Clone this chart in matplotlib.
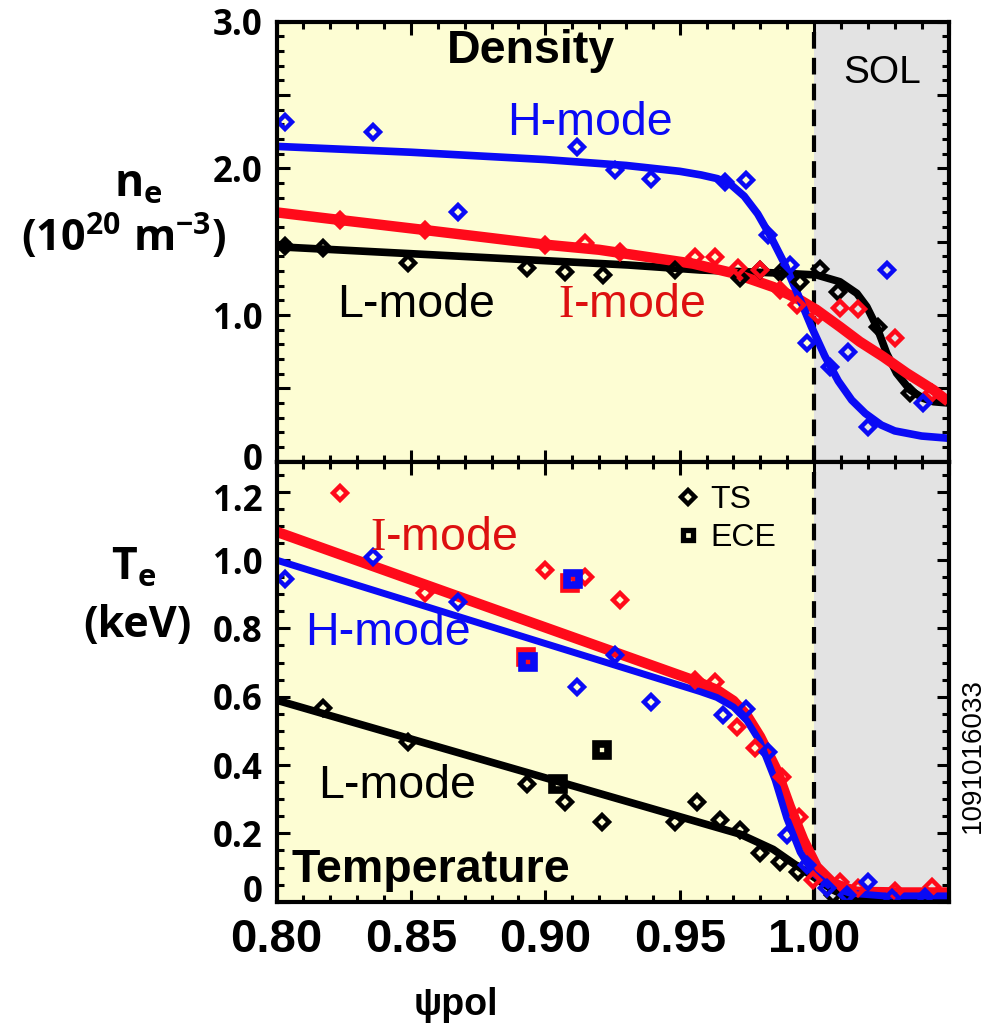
import matplotlib
matplotlib.use("Agg")
import matplotlib.pyplot as plt
from matplotlib.ticker import FixedLocator, MultipleLocator
from matplotlib.lines import Line2D
from matplotlib.transforms import ScaledTranslation

# ---------------- data ----------------
# Density (10^20 m^-3) - TS points
h_ne_x = [0.8032, 0.8360, 0.8674, 0.9117, 0.9259, 0.9392, 0.9669, 0.9746, 0.9830, 0.9910, 0.9972, 1.0059, 1.0127, 1.0202, 1.0270, 1.0406]
h_ne_y = [2.318, 2.250, 1.705, 2.148, 1.989, 1.927, 1.909, 1.921, 1.546, 1.341, 0.807, 0.648, 0.750, 0.239, 1.307, 0.398]
i_ne_x = [0.8237, 0.8552, 0.8999, 0.9148, 0.9278, 0.9557, 0.9631, 0.9718, 0.9799, 0.9873, 0.9935, 1.0016, 1.0096, 1.0164, 1.0300, 1.0437]
i_ne_y = [1.646, 1.580, 1.478, 1.490, 1.430, 1.398, 1.398, 1.319, 1.307, 1.171, 1.068, 1.000, 1.046, 1.039, 0.841, 0.470]
l_ne_x = [0.8030, 0.8174, 0.8490, 0.8931, 0.9073, 0.9216, 0.9482, 0.9724, 0.9800, 0.9873, 0.9948, 1.0022, 1.0090, 1.0239, 1.0357]
l_ne_y = [1.470, 1.455, 1.353, 1.318, 1.295, 1.273, 1.307, 1.250, 1.307, 1.285, 1.227, 1.312, 1.160, 0.920, 0.466]

# Density fits
h_ne_fx = [0.80, 0.85, 0.90, 0.93, 0.95, 0.958, 0.964, 0.969, 0.974, 0.979, 0.984, 0.989, 0.994, 0.999, 1.004, 1.009, 1.014, 1.019, 1.025, 1.030, 1.040, 1.050]
h_ne_fy = [2.15, 2.11, 2.06, 2.02, 1.98, 1.955, 1.93, 1.89, 1.81, 1.69, 1.53, 1.35, 1.14, 0.92, 0.72, 0.55, 0.42, 0.33, 0.25, 0.21, 0.175, 0.16]
i_ne_fx = [0.80, 0.825, 0.855, 0.90, 0.92, 0.9365, 0.955, 0.970, 0.985, 0.995, 1.001, 1.0096, 1.017, 1.0257, 1.0345, 1.0444, 1.05]
i_ne_fy = [1.70, 1.645, 1.58, 1.48, 1.445, 1.40, 1.35, 1.285, 1.19, 1.10, 1.034, 0.92, 0.818, 0.716, 0.603, 0.489, 0.409]
l_ne_fx = [0.80, 0.9309, 0.9576, 0.9885, 1.001, 1.0096, 1.0159, 1.0196, 1.0233, 1.027, 1.0307, 1.0357, 1.0406, 1.0444, 1.05]
l_ne_fy = [1.466, 1.341, 1.307, 1.285, 1.273, 1.227, 1.148, 1.057, 0.92, 0.739, 0.603, 0.489, 0.432, 0.409, 0.40]

# Temperature (keV) - TS points
h_te_x = [0.8032, 0.8360, 0.8674, 0.9117, 0.9259, 0.9392, 0.9662, 0.9746, 0.9830, 0.9898, 0.9973, 1.0047, 1.0121, 1.0202, 1.0289, 1.0413]
h_te_y = [0.946, 1.010, 0.878, 0.629, 0.722, 0.585, 0.546, 0.563, 0.439, 0.195, 0.107, 0.039, 0.020, 0.059, 0.010, 0.015]
i_te_x = [0.8237, 0.8552, 0.8999, 0.9148, 0.9278, 0.9557, 0.9631, 0.9712, 0.9780, 0.9880, 0.9945, 0.9997, 1.0096, 1.0164, 1.0300, 1.0437]
i_te_y = [1.195, 0.903, 0.971, 0.951, 0.883, 0.649, 0.644, 0.512, 0.449, 0.366, 0.249, 0.064, 0.059, 0.039, 0.030, 0.044]
l_te_x = [0.8174, 0.8490, 0.8931, 0.9073, 0.9210, 0.9483, 0.9563, 0.9650, 0.9724, 0.9799, 0.9873, 0.9941, 1.0071]
l_te_y = [0.566, 0.468, 0.346, 0.293, 0.234, 0.234, 0.293, 0.239, 0.210, 0.142, 0.117, 0.088, 0.020]

# Temperature - ECE points
h_ece_x = [0.8937, 0.9104]
h_ece_y = [0.702, 0.946]
i_ece_x = [0.8927, 0.9093]
i_ece_y = [0.716, 0.934]
l_ece_x = [0.9049, 0.9210]
l_ece_y = [0.346, 0.444]

# Temperature fits
h_te_fx = [0.80, 0.9576, 0.9638, 0.9700, 0.9750, 0.9799, 0.9855, 0.9898, 0.9948, 0.9997, 1.0059, 1.0133, 1.0257, 1.05]
h_te_fy = [1.00, 0.615, 0.598, 0.570, 0.530, 0.468, 0.356, 0.245, 0.145, 0.083, 0.044, 0.025, 0.017, 0.017]
i_te_fx = [0.80, 0.9563, 0.9638, 0.9700, 0.9750, 0.9799, 0.9861, 0.9910, 0.9960, 1.0010, 1.0071, 1.0158, 1.032, 1.05]
i_te_fy = [1.083, 0.645, 0.620, 0.588, 0.545, 0.483, 0.385, 0.278, 0.181, 0.102, 0.054, 0.029, 0.027, 0.027]
l_te_fx = [0.80, 0.9724, 0.9848, 0.9923, 0.9997, 1.0071, 1.0121, 1.02, 1.05]
l_te_fy = [0.59, 0.198, 0.153, 0.112, 0.073, 0.034, 0.015, 0.010, 0.010]

x_ticks = [0.80, 0.85, 0.90, 0.95, 1.00, 1.05]
x_ticklabels = ["0.80", "0.85", "0.90", "0.95", "1.00", ""]
ne_ticks = [0.0, 0.5, 1.0, 1.5, 2.0, 2.5, 3.0]
ne_ticklabels = ["0", "", "1.0", "", "2.0", "", "3.0"]
te_ticks = [0.0, 0.2, 0.4, 0.6, 0.8, 1.0, 1.2]
te_ticklabels = ["0", "0.2", "0.4", "0.6", "0.8", "1.0", "1.2"]

# ---------------- style ----------------
BLUE = "#0A0AF5"
RED = "#FF0A1A"
RED_TXT = "#DD1010"
BLACK = "#000000"
YELLOW = "#FDFDD3"
GRAY = "#E3E3E3"

plt.rcParams["mathtext.fontset"] = "custom"
plt.rcParams["mathtext.rm"] = "Liberation Serif"
plt.rcParams["mathtext.bf"] = "Open Sans:bold"
plt.rcParams["mathtext.it"] = "Open Sans:italic"
plt.rcParams["font.family"] = ["Liberation Sans", "DejaVu Sans"]

W, H = 984, 1026
fig = plt.figure(figsize=(W / 100, H / 100), dpi=100)

L, R = 276.5, 948.5
ax1 = fig.add_axes([L / W, 1 - 461.7 / H, (R - L) / W, 440 / H])
ax2 = fig.add_axes([L / W, 1 - 901.7 / H, (R - L) / W, 440 / H])

narrow = ["Liberation Sans Narrow", "Liberation Sans", "DejaVu Sans"]
humanist = ["Open Sans", "DejaVu Sans"]

for ax in (ax1, ax2):
    ax.set_facecolor(YELLOW)
    ax.set_xlim(0.80, 1.05)
    ax.axvspan(1.0, 1.05, color=GRAY, zorder=0, lw=0)
    ax.axvline(1.0, color=BLACK, lw=3, dashes=(4, 2.2), zorder=2)
    for s in ax.spines.values():
        s.set_linewidth(3)
        s.set_zorder(10)
    ax.xaxis.set_major_locator(FixedLocator(x_ticks))
    ax.xaxis.set_minor_locator(MultipleLocator(0.01))
    ax.tick_params(which="both", direction="in", top=True, right=True, width=2.2)
    ax.tick_params(which="major", length=9)
    ax.tick_params(which="minor", length=5)

# top panel
ax1.set_ylim(0, 3.0)
ax1.yaxis.set_major_locator(FixedLocator(ne_ticks))
ax1.set_yticklabels(ne_ticklabels)
ax1.yaxis.set_minor_locator(MultipleLocator(0.1))
ax1.tick_params(axis="x", labelbottom=False)

# bottom panel
ax2.set_ylim(0, 1.288)
ax2.yaxis.set_major_locator(FixedLocator(te_ticks))
ax2.set_yticklabels(te_ticklabels)
ax2.yaxis.set_minor_locator(MultipleLocator(0.05))
ax2.set_xticklabels(x_ticklabels)

for ax in (ax1, ax2):
    for lab in ax.get_yticklabels():
        lab.set_fontfamily(humanist)
        lab.set_fontweight("bold")
        lab.set_fontsize(25)
    ax.tick_params(axis="y", pad=10)
for lab in ax2.get_xticklabels():
    lab.set_fontfamily(narrow)
    lab.set_fontweight("bold")
    lab.set_fontsize(34)
ax2.tick_params(axis="x", pad=12)


def shift_label(lab, dy_px):
    lab.set_transform(lab.get_transform() + ScaledTranslation(0, dy_px / 100, fig.dpi_scale_trans))


# nudge the labels that sit at the panel joins, as in the original
shift_label(ax1.get_yticklabels()[0], 5)      # top "0"
shift_label(ax2.get_yticklabels()[-1], -6)    # bottom "1.2"
shift_label(ax2.get_yticklabels()[0], 13)     # bottom "0"

dmk = dict(marker="D", ms=7, mew=3.2, mfc="none", ls="none", zorder=5)
smk = dict(marker="s", ms=9, mew=5.5, mfc="none", ls="none", zorder=6)

# density
ax1.plot(l_ne_fx, l_ne_fy, color=BLACK, lw=5.5, zorder=3, solid_capstyle="butt", solid_joinstyle="round")
ax1.plot(i_ne_fx, i_ne_fy, color=RED, lw=7.5, zorder=3.2, solid_capstyle="butt", solid_joinstyle="round")
ax1.plot(h_ne_fx, h_ne_fy, color=BLUE, lw=5.5, zorder=3.4, solid_capstyle="butt", solid_joinstyle="round")
ax1.plot(l_ne_x, l_ne_y, color=BLACK, **dmk)
ax1.plot(i_ne_x, i_ne_y, color=RED, **dmk)
ax1.plot(h_ne_x, h_ne_y, color=BLUE, **dmk)

# temperature
ax2.plot(l_te_fx, l_te_fy, color=BLACK, lw=5.5, zorder=3, solid_capstyle="butt", solid_joinstyle="round")
ax2.plot(i_te_fx, i_te_fy, color=RED, lw=7.5, zorder=3.2, solid_capstyle="butt", solid_joinstyle="round")
ax2.plot(h_te_fx, h_te_fy, color=BLUE, lw=5, zorder=3.4, solid_capstyle="butt", solid_joinstyle="round")
ax2.plot(l_te_x, l_te_y, color=BLACK, **dmk)
ax2.plot(i_te_x, i_te_y, color=RED, **dmk)
ax2.plot(h_te_x, h_te_y, color=BLUE, **dmk)
ax2.plot(l_ece_x, l_ece_y, color=BLACK, **smk)
ax2.plot(i_ece_x, i_ece_y, color=RED, **smk)
ax2.plot(h_ece_x, h_ece_y, color=BLUE, **smk)

# legend
handles = [Line2D([], [], color=BLACK, marker="D", ms=7, mew=3.2, mfc="none", ls="none"),
           Line2D([], [], color=BLACK, marker="s", ms=7.5, mew=3.8, mfc="none", ls="none")]
ax2.legend(handles, ["TS", "ECE"], loc="upper left", bbox_to_anchor=(0.5885, 0.947),
           frameon=False, fontsize=23, handlelength=1.0, handletextpad=0.2,
           labelspacing=0.25, borderpad=0, borderaxespad=0)


def axx(px):
    return (px - L) / (R - L)


def topy(py):
    return (461.7 - py) / 440


def boty(py):
    return (901.7 - py) / 440


TXT = 33.5
ax1.text(axx(531), topy(63.3), "Density", transform=ax1.transAxes, ha="center", va="baseline",
         fontsize=TXT, fontweight="bold", zorder=8)
ax1.text(axx(506.7), topy(135), "H-mode", transform=ax1.transAxes, ha="left", va="baseline",
         fontsize=TXT, color=BLUE, zorder=8)
ax1.text(axx(882), topy(83.3), "SOL", transform=ax1.transAxes, ha="center", va="baseline",
         fontsize=28, zorder=8)
ax1.text(axx(336.7), topy(316.7), "L-mode", transform=ax1.transAxes, ha="left", va="baseline",
         fontsize=TXT, zorder=8)
ax1.text(axx(558.3), topy(316.7), r"$\mathrm{I}$-mode", transform=ax1.transAxes, ha="left", va="baseline",
         fontsize=TXT, color=RED_TXT, zorder=8)

ax2.text(axx(370), boty(550), r"$\mathrm{I}$-mode", transform=ax2.transAxes, ha="left", va="baseline",
         fontsize=TXT, color=RED_TXT, zorder=8)
ax2.text(axx(305), boty(645), "H-mode", transform=ax2.transAxes, ha="left", va="baseline",
         fontsize=TXT, color=BLUE, zorder=8)
ax2.text(axx(318), boty(798.3), "L-mode", transform=ax2.transAxes, ha="left", va="baseline",
         fontsize=TXT, zorder=8)
ax2.text(axx(291.7), boty(881.7), "Temperature", transform=ax2.transAxes, ha="left", va="baseline",
         fontsize=TXT, fontweight="bold", zorder=8)

# y labels
fig.text(138 / W, 1 - 186 / H, r"$\mathbf{n_e}$", ha="center", va="center", fontsize=32)
fig.text(124 / W, 1 - 236 / H, r"$\mathbf{(10^{20}\ m^{-3})}$", ha="center", va="center", fontsize=31)
fig.text(134 / W, 1 - 567 / H, r"$\mathbf{T_e}$", ha="center", va="center", fontsize=32)
fig.text(137 / W, 1 - 626 / H, "(keV)", ha="center", va="center", fontsize=31,
         fontweight="bold", family=humanist)

# x label
fig.text(456 / W, 1 - 1005 / H, "ψpol", ha="center", va="center", fontsize=27,
         fontweight="bold", family=narrow)

# shot number
fig.text(973 / W, 1 - 756 / H, "1091016033", rotation=90, ha="center", va="center", fontsize=20)

fig.savefig("out.png", dpi=100)
